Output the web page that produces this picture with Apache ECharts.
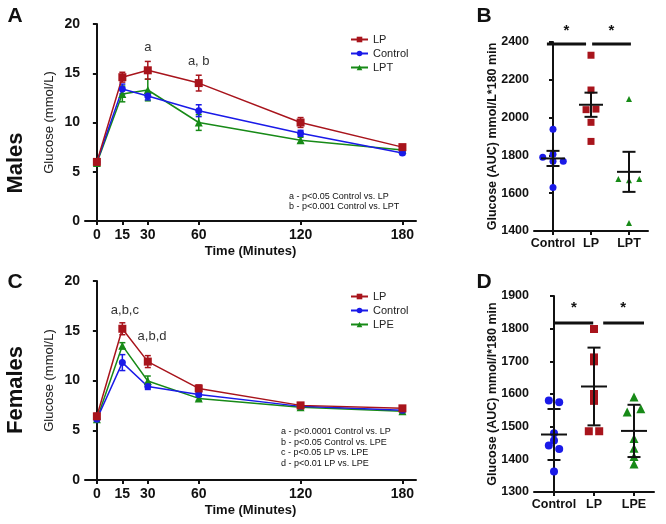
<!DOCTYPE html>
<html><head><meta charset="utf-8">
<script src="https://cdn.jsdelivr.net/npm/echarts@6/dist/echarts.min.js"></script>
<style>html,body{margin:0;padding:0;background:#fff}#c{width:666px;height:524px}</style>
</head><body><div id="c"></div>
<script>
// ---------- data ----------
const timePoints = [0, 15, 30, 60, 120, 180];
const maleLP = [6.0, 14.6, 15.3, 14.0, 10.0, 7.5];
const maleLPErr = [0.2, 0.5, 0.9, 0.8, 0.5, 0.2];
const maleControl = [6.0, 13.4, 12.7, 11.2, 8.9, 6.9];
const maleControlErr = [0.2, 0.5, 0.4, 0.6, 0.3, 0.15];
const maleLPT = [5.9, 12.9, 13.3, 10.0, 8.2, 7.2];
const maleLPTErr = [0.2, 0.8, 1.1, 0.8, 0.3, 0.15];
const femaleLP = [6.4, 15.2, 11.9, 9.2, 7.5, 7.2];
const femaleLPErr = [0.3, 0.6, 0.6, 0.35, 0.2, 0.2];
const femaleControl = [6.1, 11.8, 9.4, 8.6, 7.4, 7.0];
const femaleControlErr = [0.15, 0.8, 0.3, 0.2, 0.2, 0.15];
const femaleLPE = [6.1, 13.5, 9.95, 8.2, 7.3, 6.9];
const femaleLPEErr = [0.15, 0.3, 0.5, 0.2, 0.15, 0.15];

const annATexts = ['a', 'a, b'];
const annAX = [30, 60];
const annAY = [17.6, 16.2];
const annCTexts = ['a,b,c', 'a,b,d'];
const annCX = [16.5, 32.5];
const annCY = [17.0, 14.4];
const footA = ['a - p<0.05 Control vs. LP', 'b - p<0.001 Control vs. LPT'];
const footC = ['a - p<0.0001 Control vs. LP', 'b - p<0.05 Control vs. LPE', 'c - p<0.05 LP vs. LPE', 'd - p<0.01 LP vs. LPE'];

const catsB = ['Control', 'LP', 'LPT'];
const aucBControl = [1938, 1790, 1806, 1769, 1769, 1630];
const aucBControlX = [0, -0.27, 0, 0, 0.27, 0];
const aucBLP = [2330, 2146, 2042, 2045, 1975, 1874];
const aucBLPX = [1, 1, 0.87, 1.13, 1, 1];
const aucBLPT = [2098, 1675, 1668, 1675, 1442];
const aucBLPTX = [2, 1.72, 2, 2.27, 2];
const aucBMean = [1784, 2068, 1713];
const aucBErr = [40, 64, 106];
const sigB = [[-0.16, 0.87, 2390], [1.03, 2.05, 2390]];
const starsB = [[0.35, 2460], [1.54, 2460]];

const catsD = ['Control', 'LP', 'LPE'];
const aucDControl = [1580, 1575, 1480, 1458, 1442, 1432, 1363];
const aucDControlX = [-0.13, 0.13, 0, 0, -0.13, 0.13, 0];
const aucDLP = [1799, 1712, 1700, 1600, 1579, 1486, 1486];
const aucDLPX = [1, 1, 1, 1, 1, 0.87, 1.13];
const aucDLPE = [1591, 1545, 1555, 1464, 1434, 1409, 1386];
const aucDLPEX = [2, 1.83, 2.17, 2, 2, 2, 2];
const aucDMean = [1476, 1623, 1487];
const aucDErr = [78, 119, 80];
const sigD = [[0.0, 0.98, 1817], [1.23, 2.25, 1817]];
const starsD = [[0.5, 1864], [1.73, 1864]];

// ---------- style ----------
const FONT = '"Liberation Sans", Arial, Helvetica, sans-serif';
const RED = '#a8141c', BLUE = '#1a1ae8', GREEN = '#178a17';

const chart = echarts.init(document.getElementById('c'), null, {renderer: 'canvas'});

function errRender(color) {
  return function (params, api) {
    const x = api.value(0), lo = api.value(1), hi = api.value(2);
    const pl = api.coord([x, lo]), ph = api.coord([x, hi]);
    const hw = 3, st = {stroke: color, lineWidth: 1.5};
    return {type: 'group', children: [
      {type: 'line', shape: {x1: pl[0], y1: pl[1], x2: ph[0], y2: ph[1]}, style: st},
      {type: 'line', shape: {x1: ph[0] - hw, y1: ph[1], x2: ph[0] + hw, y2: ph[1]}, style: st},
      {type: 'line', shape: {x1: pl[0] - hw, y1: pl[1], x2: pl[0] + hw, y2: pl[1]}, style: st}
    ]};
  };
}
function meanRender(halfW, capW) {
  return function (params, api) {
    const x = api.value(0), m = api.value(1), lo = api.value(2), hi = api.value(3);
    const pm = api.coord([x, m]), pl = api.coord([x, lo]), ph = api.coord([x, hi]);
    const st = {stroke: '#111', lineWidth: 2};
    return {type: 'group', children: [
      {type: 'line', shape: {x1: pm[0] - halfW, y1: pm[1], x2: pm[0] + halfW, y2: pm[1]}, style: st},
      {type: 'line', shape: {x1: pl[0], y1: pl[1], x2: ph[0], y2: ph[1]}, style: st},
      {type: 'line', shape: {x1: ph[0] - capW, y1: ph[1], x2: ph[0] + capW, y2: ph[1]}, style: st},
      {type: 'line', shape: {x1: pl[0] - capW, y1: pl[1], x2: pl[0] + capW, y2: pl[1]}, style: st}
    ]};
  };
}
function sigRender(params, api) {
  const a = api.coord([api.value(0), api.value(2)]), b = api.coord([api.value(1), api.value(2)]);
  return {type: 'line', shape: {x1: a[0], y1: a[1], x2: b[0], y2: b[1]}, style: {stroke: '#111', lineWidth: 3}};
}
function textRender(texts, size, weight, color) {
  return function (params, api) {
    const p = api.coord([api.value(0), api.value(1)]);
    return {type: 'text', x: p[0], y: p[1], style: {text: texts[params.dataIndex], fill: color,
      font: weight + ' ' + size + 'px ' + FONT, align: 'center', verticalAlign: 'middle'}};
  };
}

function errData(vals, errs) { return timePoints.map((t, i) => [t, vals[i] - errs[i], vals[i] + errs[i]]); }
function lineData(vals) { return timePoints.map((t, i) => [t, vals[i]]); }
function scatterData(xs, ys) { return ys.map((v, i) => [xs[i], v]); }
function meanData(means, errs) { return means.map((m, i) => [i, m, m - errs[i], m + errs[i]]); }

function lineSeries(name, vals, color, symbol, size, idx) {
  return {type: 'line', name, xAxisIndex: idx, yAxisIndex: idx, data: lineData(vals), symbol, symbolSize: size,
    color, lineStyle: {color, width: 1.5}, itemStyle: {color}, z: 3, animation: false};
}
function errSeries(vals, errs, color, idx) {
  return {type: 'custom', xAxisIndex: idx, yAxisIndex: idx, data: errData(vals, errs), renderItem: errRender(color),
    encode: {x: 0, y: [1, 2]}, z: 2, clip: false, silent: true, animation: false};
}

const axisLine = {show: true, lineStyle: {color: '#111', width: 2}};
const axisTick = {show: true, length: 4, lineStyle: {color: '#111', width: 2}};
const plain = v => String(v);

function lineXAxis(idx) {
  return {type: 'value', gridIndex: idx, min: -7, max: 188, axisLine, splitLine: {show: false},
    axisTick: Object.assign({}, axisTick, {customValues: timePoints}),
    axisLabel: {customValues: timePoints, formatter: plain, fontSize: 14, fontWeight: 'bold', color: '#111', fontFamily: FONT, margin: 7},
    name: 'Time (Minutes)', nameLocation: 'middle', nameGap: 24, nameMoveOverlap: false,
    nameTextStyle: {fontSize: 13, fontWeight: 'bold', color: '#111', fontFamily: FONT}};
}
function lineYAxis(idx) {
  return {type: 'value', gridIndex: idx, min: 0, max: 20, interval: 5, axisLine, axisTick, splitLine: {show: false},
    axisLabel: {formatter: plain, fontSize: 14, fontWeight: 'bold', color: '#111', fontFamily: FONT, margin: 5},
    name: 'Glucose (mmol/L)', nameLocation: 'middle', nameGap: 29, nameMoveOverlap: false,
    nameTextStyle: {fontSize: 13, color: '#222', fontFamily: FONT}};
}
function catXAxis(idx, cats) {
  return {type: 'value', gridIndex: idx, min: -0.5, max: 2.5, axisLine, splitLine: {show: false},
    axisTick: Object.assign({}, axisTick, {customValues: [0, 1, 2]}),
    axisLabel: {customValues: [0, 1, 2], formatter: v => cats[Math.round(v)], fontSize: 12.5, fontWeight: 'bold',
      color: '#111', fontFamily: FONT, margin: 6}};
}
function aucYAxis(idx, min, max, step, title) {
  return {type: 'value', gridIndex: idx, min, max, interval: step, axisLine, axisTick, splitLine: {show: false},
    axisLabel: {formatter: plain, fontSize: 12.5, fontWeight: 'bold', color: '#111', fontFamily: FONT, margin: 5},
    name: title, nameLocation: 'middle', nameGap: 35, nameMoveOverlap: false,
    nameTextStyle: {fontSize: 12.5, fontWeight: 'bold', color: '#111', fontFamily: FONT}};
}
function scatter(xs, ys, color, symbol, size, idx) {
  return {type: 'scatter', xAxisIndex: idx, yAxisIndex: idx, data: scatterData(xs, ys), symbol, symbolSize: size,
    itemStyle: {color, opacity: 1}, z: 2, silent: true, animation: false};
}

const legendBase = {orient: 'vertical', left: 345, itemWidth: 17, itemHeight: 7, itemGap: 3, selectedMode: false,
  textStyle: {fontSize: 11, color: '#222', fontFamily: FONT}};

function textGraphic(text, x, y, size, weight, rot, align) {
  return {type: 'text', x, y, rotation: rot || 0, style: {text, fill: '#111', font: weight + ' ' + size + 'px ' + FONT,
    align: align || 'center', verticalAlign: 'middle'}};
}

const option = {
  animation: false,
  backgroundColor: '#fff',
  grid: [
    {left: 85, top: 24, width: 331, height: 197},
    {left: 534, top: 42, width: 114, height: 189},
    {left: 85, top: 281, width: 331, height: 199},
    {left: 534, top: 296, width: 120, height: 196}
  ],
  xAxis: [lineXAxis(0), catXAxis(1, catsB), lineXAxis(2), catXAxis(3, catsD)],
  yAxis: [lineYAxis(0), aucYAxis(1, 1400, 2400, 200, 'Glucose (AUC) mmol/L*180 min'),
          lineYAxis(2), aucYAxis(3, 1300, 1900, 100, 'Glucose (AUC) mmol/l*180 min')],
  legend: [
    Object.assign({}, legendBase, {top: 29, data: ['LP', 'Control', 'LPT']}),
    Object.assign({}, legendBase, {top: 286, data: ['LP', 'Control', 'LPE']})
  ],
  series: [
    // Panel A
    errSeries(maleLPT, maleLPTErr, GREEN, 0),
    errSeries(maleControl, maleControlErr, BLUE, 0),
    errSeries(maleLP, maleLPErr, RED, 0),
    lineSeries('LPT', maleLPT, GREEN, 'triangle', 8, 0),
    lineSeries('Control', maleControl, BLUE, 'circle', 7, 0),
    lineSeries('LP', maleLP, RED, 'rect', 8, 0),
    {type: 'custom', xAxisIndex: 0, yAxisIndex: 0, data: annAX.map((x, i) => [x, annAY[i]]),
      renderItem: textRender(annATexts, 13, 'normal', '#333'), clip: false, silent: true},
    // Panel C
    errSeries(femaleLPE, femaleLPEErr, GREEN, 2),
    errSeries(femaleControl, femaleControlErr, BLUE, 2),
    errSeries(femaleLP, femaleLPErr, RED, 2),
    lineSeries('LPE', femaleLPE, GREEN, 'triangle', 8, 2),
    lineSeries('Control', femaleControl, BLUE, 'circle', 7, 2),
    lineSeries('LP', femaleLP, RED, 'rect', 8, 2),
    {type: 'custom', xAxisIndex: 2, yAxisIndex: 2, data: annCX.map((x, i) => [x, annCY[i]]),
      renderItem: textRender(annCTexts, 13, 'normal', '#333'), clip: false, silent: true},
    // Panel B
    scatter(aucBControlX, aucBControl, BLUE, 'circle', 7, 1),
    scatter(aucBLPX, aucBLP, RED, 'rect', 7, 1),
    scatter(aucBLPTX, aucBLPT, GREEN, 'triangle', 6, 1),
    {type: 'custom', xAxisIndex: 1, yAxisIndex: 1, data: meanData(aucBMean, aucBErr), renderItem: meanRender(12, 6.5),
      clip: false, silent: true, z: 4},
    {type: 'custom', xAxisIndex: 1, yAxisIndex: 1, data: sigB, renderItem: sigRender, clip: false, silent: true},
    {type: 'custom', xAxisIndex: 1, yAxisIndex: 1, data: starsB, renderItem: textRender(['*', '*'], 15, 'bold', '#111'),
      clip: false, silent: true},
    // Panel D
    scatter(aucDControlX, aucDControl, BLUE, 'circle', 8, 3),
    scatter(aucDLPX, aucDLP, RED, 'rect', 8, 3),
    scatter(aucDLPEX, aucDLPE, GREEN, 'triangle', 9, 3),
    {type: 'custom', xAxisIndex: 3, yAxisIndex: 3, data: meanData(aucDMean, aucDErr), renderItem: meanRender(13, 6.5),
      clip: false, silent: true, z: 4},
    {type: 'custom', xAxisIndex: 3, yAxisIndex: 3, data: sigD, renderItem: sigRender, clip: false, silent: true},
    {type: 'custom', xAxisIndex: 3, yAxisIndex: 3, data: starsD, renderItem: textRender(['*', '*'], 15, 'bold', '#111'),
      clip: false, silent: true}
  ],
  graphic: [
    textGraphic('A', 15, 16, 21, 'bold'),
    textGraphic('B', 484, 16, 21, 'bold'),
    textGraphic('C', 15, 282, 21, 'bold'),
    textGraphic('D', 484, 282, 21, 'bold'),
    textGraphic('Males', 16, 163, 22, 'bold', Math.PI / 2),
    textGraphic('Females', 16, 390, 22, 'bold', Math.PI / 2),
    textGraphic(footA[0], 289, 197, 9, 'normal', 0, 'left'),
    textGraphic(footA[1], 289, 207, 9, 'normal', 0, 'left'),
    textGraphic(footC[0], 281, 432, 9, 'normal', 0, 'left'),
    textGraphic(footC[1], 281, 443, 9, 'normal', 0, 'left'),
    textGraphic(footC[2], 281, 453, 9, 'normal', 0, 'left'),
    textGraphic(footC[3], 281, 464, 9, 'normal', 0, 'left')
  ]
};
chart.setOption(option);
</script></body></html>
